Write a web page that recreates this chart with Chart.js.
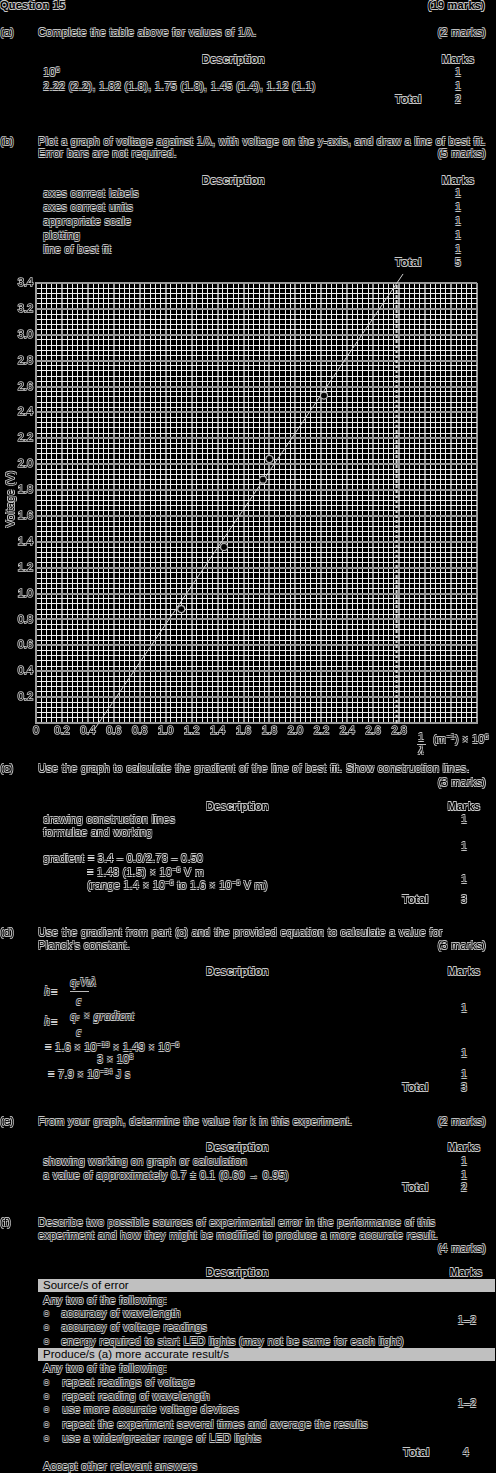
<!DOCTYPE html>
<html>
<head>
<meta charset="utf-8">
<script src="https://cdn.jsdelivr.net/npm/chart.js@4"></script>
<style>
html,body{margin:0;padding:0;background:#000;width:496px;height:1473px;overflow:hidden;}
body{position:relative;}
.t{position:absolute;font:11px/12px "Liberation Sans",Arial,sans-serif;letter-spacing:0.22px;white-space:nowrap;color:#000;
text-shadow:-0.6px -0.6px 0 #c8c8c8,0.6px -0.6px 0 #c8c8c8,-0.6px 0.6px 0 #c8c8c8,0.6px 0.6px 0 #c8c8c8;}
.b{font-weight:bold;}
.c{text-align:center;width:60px;}
.r{text-align:right;}
.s{font-size:7.5px;position:relative;top:-4px;letter-spacing:0;}
.m{font-family:"Liberation Serif","Times New Roman",serif;font-style:italic;font-size:12px;letter-spacing:0;}
.bar{position:absolute;left:38px;width:457px;height:13px;background:#c0c0c0;}
.bar span{position:absolute;left:5px;top:0;font:11.5px/13px "Liberation Sans",Arial,sans-serif;color:#000;white-space:nowrap;}
.hl{position:absolute;height:1px;background:#bbb;}
#chartBox{position:absolute;left:0;top:270px;}
</style>
</head>
<body>
<!-- (a) -->
<div class="t b" style="left:0;top:-1px">Question 15</div>
<div class="t b r" style="right:11px;top:-1px">(19 marks)</div>
<div class="t" style="left:0;top:26px">(a)</div>
<div class="t" style="left:38px;top:26px">Complete the table above for values of 1/λ.</div>
<div class="t r" style="right:10px;top:26px">(2 marks)</div>
<div class="t b c" style="left:202px;top:53px">Description</div>
<div class="t b c" style="left:428px;top:53px">Marks</div>
<div class="t" style="left:43px;top:66px">10<span class="s">6</span></div>
<div class="t c" style="left:428px;top:66px">1</div>
<div class="t" style="left:43px;top:80px">2.22 (2.2), 1.82 (1.8), 1.75 (1.8), 1.45 (1.4), 1.12 (1.1)</div>
<div class="t c" style="left:428px;top:80px">1</div>
<div class="t b" style="left:395px;top:93px">Total</div>
<div class="t c" style="left:428px;top:93px">2</div>

<!-- (b) -->
<div class="t" style="left:0;top:135px">(b)</div>
<div class="t" style="left:38px;top:135px">Plot a graph of voltage against 1/λ, with voltage on the y-axis, and draw a line of best fit.</div>
<div class="t" style="left:38px;top:147px">Error bars are not required.</div>
<div class="t r" style="right:10px;top:147px">(5 marks)</div>
<div class="t b c" style="left:202px;top:174px">Description</div>
<div class="t b c" style="left:428px;top:174px">Marks</div>
<div class="t" style="left:43px;top:187px">axes correct labels</div>
<div class="t c" style="left:428px;top:187px">1</div>
<div class="t" style="left:43px;top:201px">axes correct units</div>
<div class="t c" style="left:428px;top:201px">1</div>
<div class="t" style="left:43px;top:215px">appropriate scale</div>
<div class="t c" style="left:428px;top:215px">1</div>
<div class="t" style="left:43px;top:229px">plotting</div>
<div class="t c" style="left:428px;top:229px">1</div>
<div class="t" style="left:43px;top:243px">line of best fit</div>
<div class="t c" style="left:428px;top:243px">1</div>
<div class="t b" style="left:395px;top:256px">Total</div>
<div class="t c" style="left:428px;top:256px">5</div>

<div id="chartBox"><canvas id="c" width="496" height="495"></canvas></div>
<div class="t" style="left:-30px;top:493px;width:80px;text-align:center;transform:rotate(-90deg)">Voltage (V)</div>
<div class="t c" style="left:391px;top:731px">1</div>
<div class="hl" style="left:417px;top:744px;width:9px"></div>
<div class="t c m" style="left:391px;top:744px">λ</div>
<div class="t" style="left:433px;top:733px">(m<span class="s">−1</span>) × 10<span class="s">6</span></div>

<!-- (c) -->
<div class="t" style="left:0;top:762px">(c)</div>
<div class="t" style="left:38px;top:762px">Use the graph to calculate the gradient of the line of best fit. Show construction lines.</div>
<div class="t r" style="right:10px;top:776px">(3 marks)</div>
<div class="t b c" style="left:206px;top:800px">Description</div>
<div class="t b c" style="left:434px;top:800px">Marks</div>
<div class="t" style="left:43px;top:813px">drawing construction lines</div>
<div class="t c" style="left:434px;top:813px">1</div>
<div class="t" style="left:43px;top:826px">formulae and working</div>
<div class="t c" style="left:434px;top:840px">1</div>
<div class="t" style="left:43px;top:852px">gradient = 3.4 – 0.0/2.78 – 0.50</div>
<div class="t" style="left:87px;top:866px">= 1.48 (1.5) × 10<span class="s">−6</span> V m</div>
<div class="t" style="left:87px;top:879px">(range 1.4 × 10<span class="s">−6</span> to 1.6 × 10<span class="s">−6</span> V m)</div>
<div class="t c" style="left:434px;top:873px">1</div>
<div class="t b" style="left:402px;top:893px">Total</div>
<div class="t c" style="left:434px;top:893px">3</div>

<!-- (d) -->
<div class="t" style="left:0;top:926px">(d)</div>
<div class="t" style="left:38px;top:926px">Use the gradient from part (c) and the provided equation to calculate a value for</div>
<div class="t" style="left:38px;top:939px">Planck's constant.</div>
<div class="t r" style="right:10px;top:939px">(3 marks)</div>
<div class="t b c" style="left:206px;top:965px">Description</div>
<div class="t b c" style="left:434px;top:965px">Marks</div>
<div class="t m" style="left:44px;top:985px">h</div>
<div class="t" style="left:51px;top:986px">=</div>
<div class="t m" style="left:70px;top:976px">q<span style="font-size:8px">e</span>V<span style="font-size:8px">0</span>λ</div>
<div class="hl" style="left:70px;top:991px;width:19px"></div>
<div class="t m" style="left:76px;top:995px">c</div>
<div class="t c" style="left:434px;top:1002px">1</div>
<div class="t m" style="left:44px;top:1015px">h</div>
<div class="t" style="left:51px;top:1016px">=</div>
<div class="t m" style="left:70px;top:1010px">q<span style="font-size:8px">e</span> × gradient</div>
<div class="t m" style="left:76px;top:1026px">c</div>
<div class="t" style="left:45px;top:1041px">= 1.6 × 10<span class="s">−19</span> × 1.49 × 10<span class="s">−6</span></div>
<div class="t" style="left:97px;top:1053px">3 × 10<span class="s">8</span></div>
<div class="t c" style="left:434px;top:1047px">1</div>
<div class="t" style="left:48px;top:1068px">= 7.9 × 10<span class="s">−34</span> J s</div>
<div class="t c" style="left:434px;top:1068px">1</div>
<div class="t b" style="left:402px;top:1081px">Total</div>
<div class="t c" style="left:434px;top:1081px">3</div>

<!-- (e) -->
<div class="t" style="left:0;top:1115px">(e)</div>
<div class="t" style="left:38px;top:1115px">From your graph, determine the value for k in this experiment.</div>
<div class="t r" style="right:10px;top:1115px">(2 marks)</div>
<div class="t b c" style="left:206px;top:1141px">Description</div>
<div class="t b c" style="left:434px;top:1141px">Marks</div>
<div class="t" style="left:43px;top:1155px">showing working on graph or calculation</div>
<div class="t c" style="left:434px;top:1155px">1</div>
<div class="t" style="left:43px;top:1169px">a value of approximately 0.7 ± 0.1 (0.60 → 0.95)</div>
<div class="t c" style="left:434px;top:1169px">1</div>
<div class="t b" style="left:402px;top:1181px">Total</div>
<div class="t c" style="left:434px;top:1181px">2</div>

<!-- (f) -->
<div class="t" style="left:0;top:1216px">(f)</div>
<div class="t" style="left:38px;top:1216px">Describe two possible sources of experimental error in the performance of this</div>
<div class="t" style="left:38px;top:1229px">experiment and how they might be modified to produce a more accurate result.</div>
<div class="t r" style="right:10px;top:1242px">(4 marks)</div>
<div class="t b c" style="left:206px;top:1266px">Description</div>
<div class="t b c" style="left:436px;top:1266px">Marks</div>
<div class="bar" style="top:1279px"><span>Source/s of error</span></div>
<div class="t" style="left:43px;top:1294px">Any two of the following:</div>
<div class="t" style="left:43px;top:1307px">○</div><div class="t" style="left:61px;top:1307px">accuracy of wavelength</div>
<div class="t" style="left:43px;top:1321px">○</div><div class="t" style="left:61px;top:1321px">accuracy of voltage readings</div>
<div class="t" style="left:43px;top:1335px">○</div><div class="t" style="left:61px;top:1335px">energy required to start LED lights (may not be same for each light)</div>
<div class="t c" style="left:437px;top:1314px">1–2</div>
<div class="bar" style="top:1348px"><span>Produce/s (a) more accurate result/s</span></div>
<div class="t" style="left:43px;top:1362px">Any two of the following:</div>
<div class="t" style="left:43px;top:1376px">○</div><div class="t" style="left:62px;top:1376px">repeat readings of voltage</div>
<div class="t" style="left:43px;top:1390px">○</div><div class="t" style="left:62px;top:1390px">repeat reading of wavelength</div>
<div class="t" style="left:43px;top:1403px">○</div><div class="t" style="left:62px;top:1403px">use more accurate voltage devices</div>
<div class="t" style="left:43px;top:1418px">○</div><div class="t" style="left:62px;top:1418px">repeat the experiment several times and average the results</div>
<div class="t" style="left:43px;top:1432px">○</div><div class="t" style="left:62px;top:1432px">use a wider/greater range of LED lights</div>
<div class="t c" style="left:437px;top:1397px">1–2</div>
<div class="t b" style="left:403px;top:1446px">Total</div>
<div class="t c" style="left:436px;top:1446px">4</div>
<div class="t" style="left:43px;top:1460px">Accept other relevant answers</div>

<script>
// ---- data ----
const invLambda = [2.22, 1.80, 1.75, 1.45, 1.12];      // 1/λ (×10^6 m^-1)
const voltage   = [2.53, 2.04, 1.88, 1.36, 0.88];      // V
const fitX = [0.45, 2.83];                              // line of best fit ends
const fitY = [-0.05, 3.47];
const constructX = [2.78, 2.78];                        // construction line
const constructY = [0, 3.4];
const axisMin = 0, axisMax = 3.4;
const minorStep = 0.04, majorStep = 0.2;
const xTickLabels = ['0','0.2','0.4','0.6','0.8','1.0','1.2','1.4','1.6','1.8','2.0','2.2','2.4','2.6','2.8'];
const yTickLabels = ['0.2','0.4','0.6','0.8','1.0','1.2','1.4','1.6','1.8','2.0','2.2','2.4','2.6','2.8','3.0','3.2','3.4'];

function majorIndex(v){
  const i = Math.round(v / majorStep);
  return Math.abs(v - i * majorStep) < 1e-6 ? i : -1;
}
const gridOpts = {
  drawTicks: false,
  color: c => majorIndex(c.tick ? c.tick.value : 0) >= 0 ? '#9c9c9c' : '#f0f0f0',
  lineWidth: c => majorIndex(c.tick ? c.tick.value : 0) >= 0 ? 2 : 1
};
const tickFont = {family: '"Liberation Sans", Arial, sans-serif', size: 11};

new Chart(document.getElementById('c'), {
  type: 'scatter',
  data: {
    datasets: [
      {
        type: 'line',
        data: fitX.map((x, i) => ({x, y: fitY[i]})),
        borderColor: '#d0d0d0', borderWidth: 1, pointRadius: 0, clip: false, order: 2
      },
      {
        type: 'line',
        data: constructX.map((x, i) => ({x, y: constructY[i]})),
        borderColor: '#dcdcdc', borderWidth: 2, borderDash: [3, 2], pointRadius: 0, order: 3
      },
      {
        data: invLambda.map((x, i) => ({x, y: voltage[i]})),
        pointRadius: 3.5, pointBorderWidth: 1.2,
        pointBorderColor: '#b8b8b8', pointBackgroundColor: '#000', order: 1
      }
    ]
  },
  options: {
    responsive: false, animation: false, devicePixelRatio: 1,
    layout: {padding: {top: 13, right: 19, left: 0, bottom: 0}},
    plugins: {legend: {display: false}, tooltip: {enabled: false}},
    scales: {
      x: {
        type: 'linear', min: axisMin, max: axisMax,
        afterFit: s => { s.height = 42; },
        border: {color: '#9c9c9c', width: 2},
        grid: gridOpts,
        ticks: {
          stepSize: minorStep, autoSkip: false, maxRotation: 0, padding: 1,
          color: '#000', textStrokeColor: '#c8c8c8', textStrokeWidth: 1.6, font: tickFont,
          callback: v => { const i = majorIndex(v); return (i >= 0 && i < xTickLabels.length) ? xTickLabels[i] : ''; }
        }
      },
      y: {
        type: 'linear', min: axisMin, max: axisMax,
        afterFit: s => { s.width = 36; },
        border: {color: '#9c9c9c', width: 2},
        grid: gridOpts,
        ticks: {
          stepSize: minorStep, autoSkip: false, padding: 3,
          color: '#000', textStrokeColor: '#c8c8c8', textStrokeWidth: 1.6, font: tickFont,
          callback: v => { const i = majorIndex(v); return (i >= 1 && i - 1 < yTickLabels.length) ? yTickLabels[i - 1] : ''; }
        }
      }
    }
  }
});
</script>
</body>
</html>
